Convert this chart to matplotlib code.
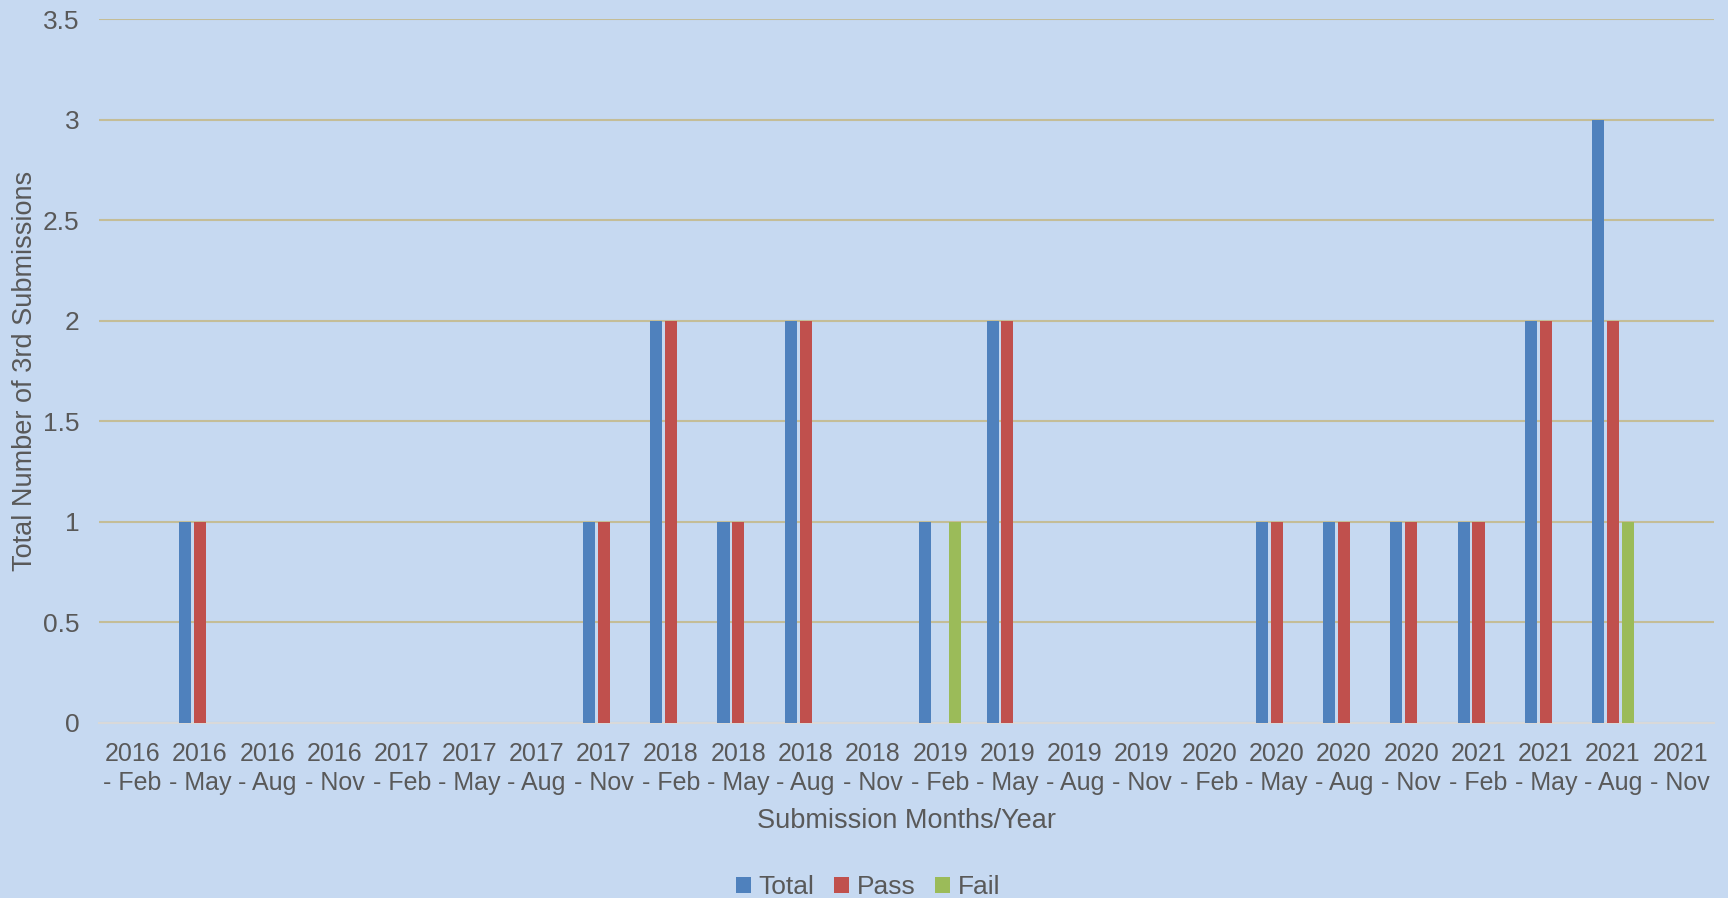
import matplotlib
matplotlib.use("Agg")
import matplotlib.pyplot as plt
import numpy as np

years = ["2016"] * 4 + ["2017"] * 4 + ["2018"] * 4 + ["2019"] * 4 + ["2020"] * 4 + ["2021"] * 4
months = ["Feb", "May", "Aug", "Nov"] * 6
labels = [f"{y}\n- {m}" for y, m in zip(years, months)]

total = [0, 1, 0, 0, 0, 0, 0, 1, 2, 1, 2, 0, 1, 2, 0, 0, 0, 1, 1, 1, 1, 2, 3, 0]
passed = [0, 1, 0, 0, 0, 0, 0, 1, 2, 1, 2, 0, 0, 2, 0, 0, 0, 1, 1, 1, 1, 2, 2, 0]
failed = [0, 0, 0, 0, 0, 0, 0, 0, 0, 0, 0, 0, 1, 0, 0, 0, 0, 0, 0, 0, 0, 0, 1, 0]

BG = "#C6D9F1"
TXT = "#595959"
plt.rcParams["font.family"] = ["Liberation Sans", "DejaVu Sans"]

fig = plt.figure(figsize=(17.28, 8.98), dpi=100, facecolor=BG)
ax = fig.add_axes([99 / 1728, 1 - 723 / 898, (1714 - 99) / 1728, (723 - 19) / 898])
ax.set_facecolor(BG)

x = np.arange(len(labels))
w = 0.18
step = 0.22
ax.bar(x - step, total, w, color="#4F81BD", label="Total", linewidth=0, zorder=3)
ax.bar(x, passed, w, color="#C0504D", label="Pass", linewidth=0, zorder=3)
ax.bar(x + step, failed, w, color="#9BBB59", label="Fail", linewidth=0, zorder=3)

ax.set_xlim(-0.5, len(labels) - 0.5)
ax.set_ylim(0, 3.5)
ax.set_yticks(np.arange(0, 3.6, 0.5))
ax.set_yticklabels(["0", "0.5", "1", "1.5", "2", "2.5", "3", "3.5"])
ax.set_xticks(x)
ax.set_xticklabels(labels, linespacing=1.25)
ax.yaxis.grid(True, color="#C4BD97", linewidth=1.5, zorder=0)
ax.set_axisbelow(True)
for s in ["top", "right", "left"]:
    ax.spines[s].set_visible(False)
ax.spines["bottom"].set_color("#D9D9D9")
ax.spines["bottom"].set_linewidth(1.5)
ax.spines["bottom"].set_zorder(1)
ax.tick_params(axis="both", length=0, colors=TXT)
ax.tick_params(axis="x", pad=14, labelsize=18)
ax.tick_params(axis="y", pad=14, labelsize=19)

ax.set_xlabel("Submission Months/Year", fontsize=19.5, color=TXT, labelpad=9)
ax.set_ylabel("Total Number of 3rd Submissions", fontsize=19.5, color=TXT)
ax.yaxis.set_label_coords((38 - 99) / 1615, 0.5)

fig.legend(loc="center", bbox_to_anchor=(868 / 1728, 1 - 887 / 898), ncol=3,
           frameon=False, fontsize=19, labelcolor=TXT, handlelength=0.55,
           handleheight=0.55, handletextpad=0.3, columnspacing=0.75)

fig.savefig("out.png", dpi=100, facecolor=BG)
